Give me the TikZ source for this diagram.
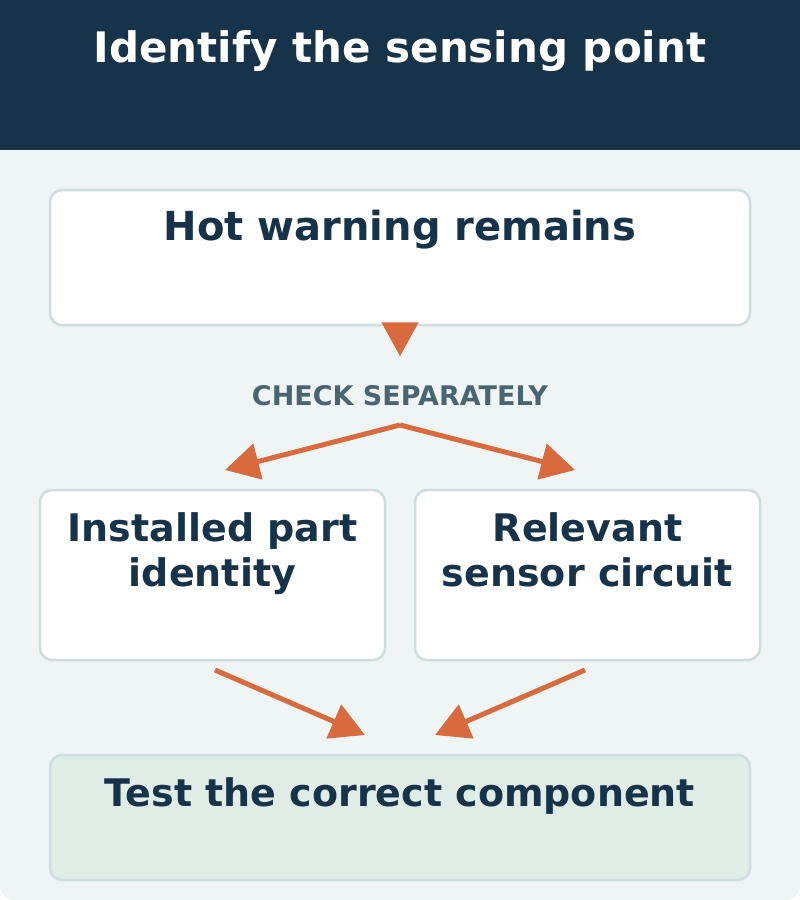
\documentclass[tikz,border=0pt]{standalone}
\usepackage{fontspec}
\setmainfont{DejaVu Sans}
\usetikzlibrary{arrows.meta,positioning}
\definecolor{navy}{HTML}{16334A}
\definecolor{paper}{HTML}{EFF4F5}
\definecolor{edge}{HTML}{CFDDDF}
\definecolor{rust}{HTML}{D96A3E}
\definecolor{slate}{HTML}{4A6572}
\definecolor{mint}{HTML}{E0ECE6}
\tikzset{
  box/.style={draw=edge,line width=2.5pt,rounded corners=12pt,fill=white,inner sep=0pt},
  boxtext/.style={text=navy,font=\fontsize{38}{45}\selectfont\bfseries,align=center,anchor=north},
  flow/.style={draw=rust,line width=5pt,-{Triangle[length=34pt,width=36pt]}}
}
\begin{document}
\begin{tikzpicture}[x=1pt,y=-1pt]
\useasboundingbox (0,0) rectangle (800,900);
  % background
  \fill[paper,rounded corners=14pt] (0,100) rectangle (800,900);
  \fill[navy] (0,0) rectangle (800,150);
  \node[text=white,font=\fontsize{42}{50}\selectfont\bfseries] (title) at (400,51) {Identify the sensing point};
  % boxes
  \node[box,minimum width=700pt,minimum height=135pt] (hot) at (400,257.5) {};
  \node[boxtext,font=\fontsize{40}{45}\selectfont\bfseries] at (400,207) {Hot warning remains};
  \node[box,minimum width=345pt,minimum height=170pt] (part) at (212.5,575) {};
  \node[boxtext] at (212.5,509) {Installed part\\identity};
  \node[box,minimum width=345pt,minimum height=170pt] (sensor) at (587.5,575) {};
  \node[boxtext] at (587.5,509) {Relevant\\sensor circuit};
  \node[box,fill=mint,minimum width=700pt,minimum height=125pt] (test) at (400,817.5) {};
  \node[boxtext] at (400,774) {Test the correct component};
  % label
  \node[text=slate,font=\fontsize{27}{32}\selectfont\bfseries] (check) at (400,396) {CHECK SEPARATELY};
  \coordinate (split) at (400,425);
  \coordinate (ltip) at (225,470);
  \coordinate (rtip) at (575,470);
  \coordinate (lfrom) at (215,670);
  \coordinate (rfrom) at (585,670);
  \coordinate (lin) at (365,735);
  \coordinate (rin) at (435,735);
  % arrows
  \draw[flow] (hot.south) -- ++(0,30);
  \draw[flow] (split) -- (ltip);
  \draw[flow] (split) -- (rtip);
  \draw[flow] (lfrom) -- (lin);
  \draw[flow] (rfrom) -- (rin);
\end{tikzpicture}
\end{document}
